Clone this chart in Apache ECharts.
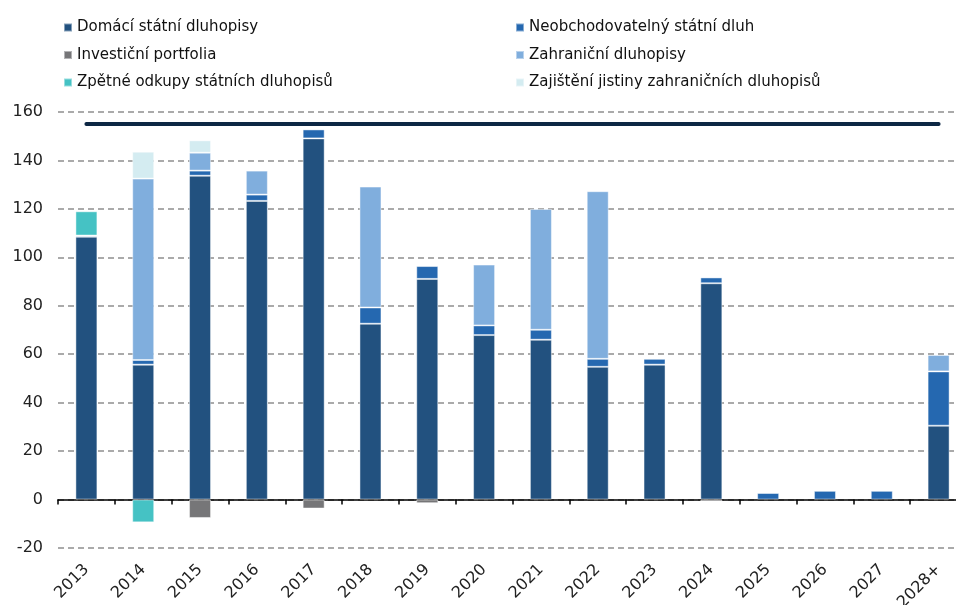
<!DOCTYPE html>
<html>
<head>
<meta charset="utf-8">
<script src="https://cdn.jsdelivr.net/npm/echarts@6/dist/echarts.min.js"></script>
<style>
  html, body { margin: 0; padding: 0; background: #fff; }
  #chart { width: 956px; height: 605px; }
</style>
</head>
<body>
<div id="chart"></div>
<script>
// kategorie (roky)
var years = ['2013', '2014', '2015', '2016', '2017', '2018', '2019', '2020', '2021', '2022', '2023', '2024', '2025', '2026', '2027', '2028+'];

// hodnoty jednotlivých složek
var domaci    = [108.5, 55.7, 133.7, 123.3, 149.1, 72.6, 91.1, 67.9, 66.0, 54.8, 55.7, 89.3, null, null, null, 30.5];
var neobch    = [0.5, 1.9, 2.1, 2.6, 3.7, 6.7, 5.3, 4.0, 4.1, 3.3, 2.4, 2.4, 2.7, 3.6, 3.6, 22.4];
var investicni = [null, null, -7.6, null, -3.7, null, -1.5, null, null, null, null, -0.8, null, null, null, null];
var zahranicni = [null, 74.9, 7.4, 9.9, null, 49.9, null, 25.1, 49.9, 69.2, null, null, null, null, null, 6.8];
var zpetne    = [10.0, -9.4, null, null, null, null, null, null, null, null, null, null, null, null, null, null];
var zajisteni = [null, 11.1, 5.1, null, null, null, null, null, null, null, null, null, null, null, null, null];
// vodorovná čára (strop)
var strop     = [155, 155, 155, 155, 155, 155, 155, 155, 155, 155, 155, 155, 155, 155, 155, 155];

var font = 'DejaVu Sans, Verdana, sans-serif';
var myChart = echarts.init(document.getElementById('chart'));

function barSeries(name, data, color) {
  return {
    name: name,
    type: 'bar',
    stack: 'total',
    data: data,
    barWidth: 22,
    itemStyle: {
      color: color,
      borderColor: 'rgba(255,255,255,0.45)',
      borderWidth: 1
    }
  };
}

var legendText = { fontFamily: font, fontSize: 15, color: '#111', lineHeight: 18 };

myChart.setOption({
  animation: false,
  legend: [
    {
      orient: 'vertical',
      left: 58,
      top: 13.5,
      itemWidth: 8,
      itemHeight: 8,
      itemGap: 9.5,
      icon: 'rect',
      textStyle: legendText,
      data: ['Domácí státní dluhopisy', 'Investiční portfolia', 'Zpětné odkupy státních dluhopisů']
    },
    {
      orient: 'vertical',
      left: 510,
      top: 13.5,
      itemWidth: 8,
      itemHeight: 8,
      itemGap: 9.5,
      icon: 'rect',
      textStyle: legendText,
      data: ['Neobchodovatelný státní dluh', 'Zahraniční dluhopisy', 'Zajištění jistiny zahraničních dluhopisů']
    }
  ],
  grid: {
    left: 58,
    top: 112,
    width: 909,
    height: 436,
    outerBoundsMode: 'none',
    containLabel: false
  },
  xAxis: [
    {
      // popisky roků dole
      type: 'category',
      data: years,
      position: 'bottom',
      axisLine: { onZero: false, show: false },
      axisTick: { show: false },
      axisLabel: {
        rotate: 45,
        margin: 19,
        fontFamily: font,
        fontSize: 16,
        color: '#222'
      }
    },
    {
      // osa na nule s čárkami
      type: 'category',
      data: years,
      position: 'bottom',
      axisLine: { onZero: true, lineStyle: { color: '#000', width: 1.5 } },
      axisTick: { show: true, length: 5, lineStyle: { color: '#000', width: 1.5 } },
      axisLabel: { show: false }
    }
  ],
  yAxis: {
    type: 'value',
    min: -20,
    max: 160,
    interval: 20,
    axisLine: { show: false },
    axisTick: { show: false },
    axisLabel: { fontFamily: font, fontSize: 16, color: '#222', margin: 15 },
    splitLine: { lineStyle: { color: '#8f8f8f', width: 1.5, type: [6, 4] } }
  },
  series: [
    barSeries('Domácí státní dluhopisy', domaci, '#22517f'),
    barSeries('Neobchodovatelný státní dluh', neobch, '#2568b0'),
    barSeries('Investiční portfolia', investicni, '#767678'),
    barSeries('Zahraniční dluhopisy', zahranicni, '#80aedd'),
    barSeries('Zpětné odkupy státních dluhopisů', zpetne, '#45c2c4'),
    barSeries('Zajištění jistiny zahraničních dluhopisů', zajisteni, '#d4ecf1'),
    {
      name: 'strop',
      type: 'line',
      data: strop,
      symbol: 'none',
      z: 5,
      lineStyle: { color: '#0d2744', width: 4, cap: 'round' }
    }
  ]
});
</script>
</body>
</html>
